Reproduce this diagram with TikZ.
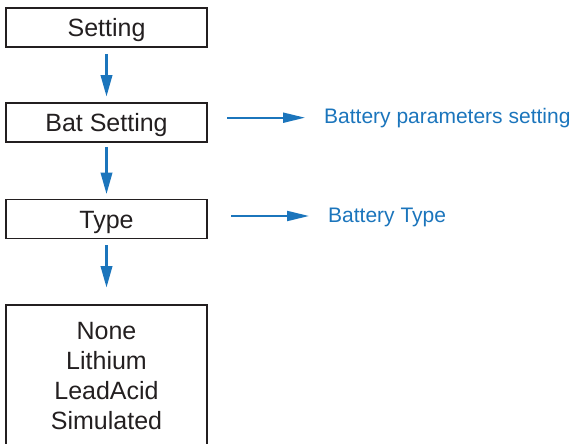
\documentclass[tikz,border=0pt]{standalone}
\usepackage{fontspec}
\setmainfont{Liberation Sans}
\usetikzlibrary{arrows.meta}
\definecolor{flowblue}{HTML}{1B75BC}
\definecolor{boxblack}{HTML}{231F20}
\begin{document}
\begin{tikzpicture}[x=1pt,y=-1pt,
  box/.style={draw=boxblack,line width=1.8pt,minimum width=201pt,minimum height=39pt,inner sep=0pt,
    font=\fontsize{25}{30}\selectfont,text=boxblack},
  onel/.style={text height=18pt,text depth=0pt},
  varrow/.style={draw=flowblue,line width=3.5pt,-{Triangle[length=22pt,width=11pt]}},
  harrow/.style={draw=flowblue,line width=2pt,-{Triangle[length=22pt,width=10pt]}},
  lbl/.style={anchor=west,inner sep=0pt,text height=15pt,text depth=0pt,text=flowblue,
    font=\fontsize{21}{25}\selectfont}]
\useasboundingbox (0,0) rectangle (574,444);
\node[box,onel] (set) at (106.5,27.5) {Setting};
\node[box,onel] (bat) at (106.5,122.5) {Bat Setting};
\node[box,onel] (typ) at (106.5,219) {Type};
\node[box,minimum height=142pt,align=center] (lst) at (106.5,376)
  {None\\Lithium\\LeadAcid\\Simulated};
\draw[varrow,shorten <=6pt,shorten >=5pt] (set.south) -- (bat.north);
\draw[varrow,shorten <=4pt,shorten >=4pt] (bat.south) -- (typ.north);
\draw[varrow,shorten <=6pt,shorten >=16pt] (typ.south) -- (lst.north);
\node[lbl] (l1) at (324,115.8) {Battery parameters setting};
\node[lbl] (l2) at (328,214.8) {Battery Type};
\coordinate (a1) at (227,117.7);
\coordinate (a2) at (231,216);
\draw[harrow,shorten >=19pt] (a1) -- (a1 -| l1.west);
\draw[harrow,shorten >=19pt] (a2) -- (a2 -| l2.west);
\end{tikzpicture}
\end{document}
